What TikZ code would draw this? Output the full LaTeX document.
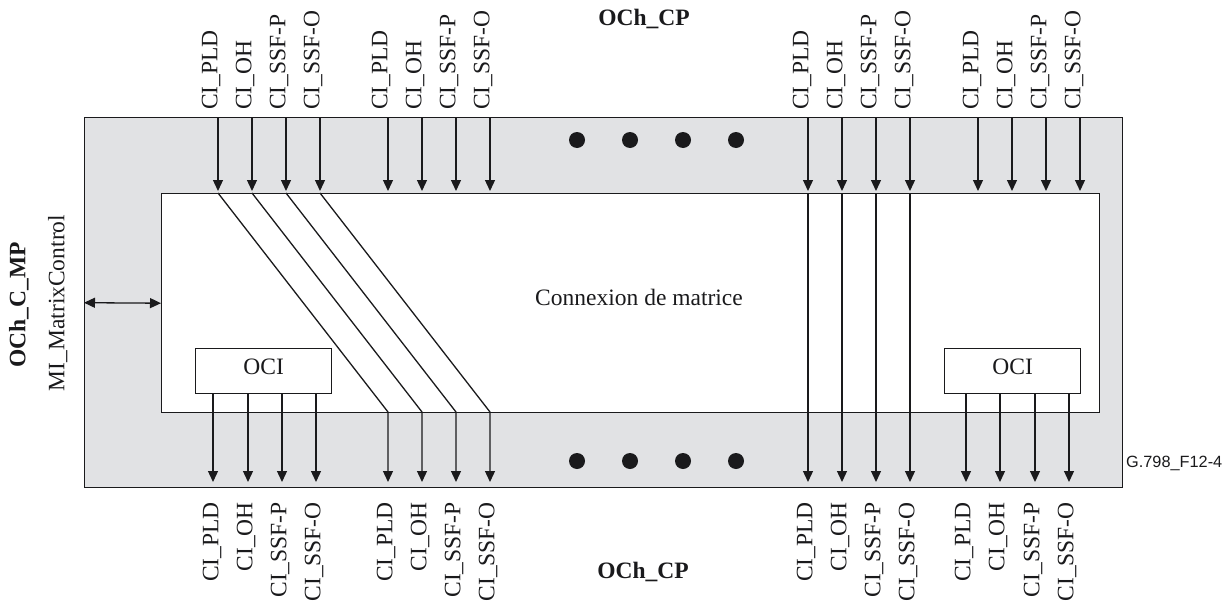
\documentclass[tikz,border=0pt]{standalone}
\usepackage{fontspec}
\setmainfont{Liberation Serif}
\newfontfamily\sansf{Liberation Sans}
\usetikzlibrary{arrows.meta}
\definecolor{panel}{RGB}{225,226,228}
\definecolor{ink}{RGB}{26,26,28}
\tikzset{
  box/.style={draw=ink, line width=1.4pt, inner sep=0pt, anchor=north west},
  sig/.style={draw=ink, line width=1.3pt, -{Triangle[length=11pt,width=10pt]}},
  bisig/.style={draw=ink, line width=1.3pt, {Triangle[length=11pt,width=10pt]}-{Triangle[length=11pt,width=10pt]}},
  lbl/.style={rotate=90, inner sep=0pt, text height=0.66em, text depth=0pt, text=ink, font=\fontsize{23.5}{28}\selectfont},
  toplbl/.style={lbl, anchor=west},
  botlbl/.style={lbl, anchor=east},
  title/.style={inner sep=0pt, text height=0.66em, text depth=0pt, text=ink, font=\fontsize{23.5}{28}\selectfont\bfseries},
  plain/.style={inner sep=0pt, text height=0.66em, text depth=0pt, text=ink, font=\fontsize{23.5}{28}\selectfont},
  dot/.style={circle, fill=ink, minimum size=16pt, inner sep=0pt},
}
\begin{document}
\begin{tikzpicture}[x=1pt,y=-1pt]
\useasboundingbox (0,0) rectangle (1231,602);
% boxes
\node[box, fill=panel, minimum width=1038pt, minimum height=370pt] (outer) at (84,117) {};
\node[box, fill=white, minimum width=938pt, minimum height=219pt] (inner) at (161,193) {};
\node[box, fill=white, minimum width=136pt, minimum height=45pt] (ociL) at (195,348) {};
\node[plain] at (ociL.center) {OCI};
\node[box, fill=white, minimum width=136pt, minimum height=45pt] (ociR) at (944,348) {};
\node[plain] at (ociR.center) {OCI};
\node[plain] (conn) at (639,302) {Connexion de matrice};
% titles
\node[title] (cptop) at (644,22) {OCh\_CP};
\node[title] (cpbot) at (643,575) {OCh\_CP};
\node[title, rotate=90] (mp) at (22,305) {OCh\_C\_MP};
\node[plain, rotate=90] (mi) at (61,303) {MI\_MatrixControl};
\node[inner sep=0pt, anchor=west, text=ink, font=\fontsize{16.3}{19}\selectfont\sansf] (fig) at (1126,463) {G.798\_F12-4};
% control arrow
\draw[bisig] (outer.west) -- (inner.west);
% top columns
\foreach \x [count=\i] in {218,252,286,320,388,422,456,490,808,842,876,910,978,1012,1046,1080}{
  \coordinate (ts\i) at (\x,117);
  \coordinate (te\i) at (\x,193);
}
% bottom columns
\foreach \x/\y [count=\i] in {213/393,248/393,282/393,316/393,388/412,422/412,456/412,490/412,808/412,842/412,876/412,910/412,966/393,1000/393,1035/393,1069/393}{
  \coordinate (bs\i) at (\x,\y);
  \coordinate (be\i) at (\x,487);
}
% top labels
\foreach \x/\t in {214/CI\_PLD,248/CI\_OH,282/CI\_SSF-P,316/CI\_SSF-O,384/CI\_PLD,418/CI\_OH,452/CI\_SSF-P,486/CI\_SSF-O,805/CI\_PLD,839/CI\_OH,873/CI\_SSF-P,907/CI\_SSF-O,975/CI\_PLD,1009/CI\_OH,1043/CI\_SSF-P,1077/CI\_SSF-O}{
  \node[toplbl] at (\x,110) {\t};
}
% bottom labels
\foreach \x/\t in {215/CI\_PLD,249/CI\_OH,283/CI\_SSF-P,317/CI\_SSF-O,389/CI\_PLD,423/CI\_OH,457/CI\_SSF-P,491/CI\_SSF-O,809/CI\_PLD,843/CI\_OH,877/CI\_SSF-P,911/CI\_SSF-O,967/CI\_PLD,1001/CI\_OH,1036/CI\_SSF-P,1070/CI\_SSF-O}{
  \node[botlbl] at (\x,502) {\t};
}
% incoming arrows
\foreach \i in {1,...,16}{
  \draw[sig, shorten >=2pt] (ts\i) -- (te\i);
}
% crossing paths group 1 -> group 2
\foreach \i/\j in {1/5,2/6,3/7,4/8}{
  \draw[sig, line width=1.3pt, shorten >=5pt] (te\i) -- (bs\j) -- (be\j);
}
% straight through group 3
\foreach \i in {9,10,11,12}{
  \draw[sig, shorten >=5pt] (te\i) -- (be\i);
}
% OCI outputs
\foreach \i in {1,2,3,4,13,14,15,16}{
  \draw[sig, shorten >=5pt] (bs\i) -- (be\i);
}
% dots
\foreach \x [count=\i] in {577,630,683,736}{
  \node[dot] (dt\i) at (\x,140) {};
  \node[dot] (db\i) at (\x,461) {};
}
\end{tikzpicture}
\end{document}
